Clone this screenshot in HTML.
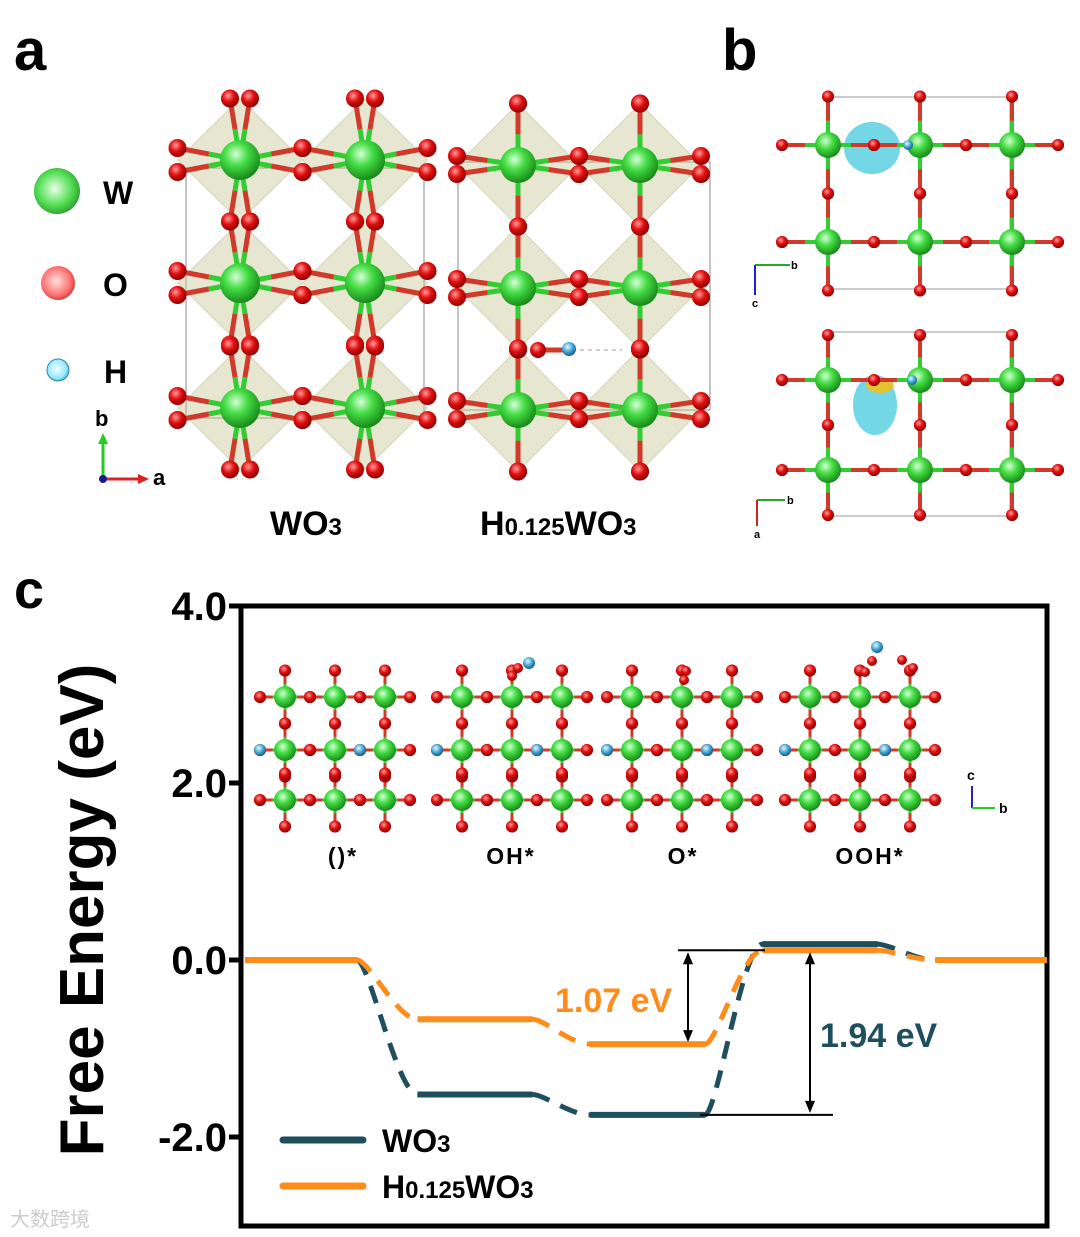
<!DOCTYPE html>
<html><head><meta charset="utf-8">
<style>
html,body{margin:0;padding:0;background:#fff;}
svg{display:block;font-family:"Liberation Sans",Arial,sans-serif;}
</style></head>
<body>
<svg id="fig" width="1080" height="1237" viewBox="0 0 1080 1237" xmlns="http://www.w3.org/2000/svg">
<defs>
<radialGradient id="gW" cx="40%" cy="35%" r="65%"><stop offset="0" stop-color="#d8ffd8"/><stop offset="0.45" stop-color="#44dd44"/><stop offset="1" stop-color="#1a8a1a"/></radialGradient>
<radialGradient id="gO" cx="40%" cy="35%" r="65%"><stop offset="0" stop-color="#ff9a9a"/><stop offset="0.5" stop-color="#e01010"/><stop offset="1" stop-color="#900000"/></radialGradient>
<radialGradient id="gH" cx="40%" cy="35%" r="65%"><stop offset="0" stop-color="#e0faff"/><stop offset="0.6" stop-color="#3aa0d0"/><stop offset="1" stop-color="#1a6090"/></radialGradient>
<radialGradient id="gWl" cx="45%" cy="45%" r="60%"><stop offset="0" stop-color="#eaffea"/><stop offset="0.6" stop-color="#55e055"/><stop offset="1" stop-color="#2a9a2a"/></radialGradient>
<radialGradient id="gOl" cx="45%" cy="45%" r="60%"><stop offset="0" stop-color="#ffe0e0"/><stop offset="0.7" stop-color="#ff7070"/><stop offset="1" stop-color="#d03030"/></radialGradient>
<radialGradient id="gHl" cx="45%" cy="45%" r="60%"><stop offset="0" stop-color="#f0ffff"/><stop offset="0.7" stop-color="#9ae8ff"/><stop offset="1" stop-color="#3aaad0"/></radialGradient>
</defs>
<g id="panelA"></g>
<g id="panelB"></g>
<g id="panelCstruct"></g>
<g id="chart"></g>
<text x="14" y="70" font-size="58" font-weight="bold">a</text>
<text x="722" y="70" font-size="58" font-weight="bold">b</text>
<text x="14" y="608" font-size="54" font-weight="bold">c</text>
<!-- legend of atoms -->
<g>
<circle cx="57" cy="191" r="23" fill="url(#gWl)"/><text x="103" y="204" font-size="32" font-weight="bold">W</text>
<circle cx="58" cy="283" r="17" fill="url(#gOl)"/><text x="103" y="296" font-size="32" font-weight="bold">O</text>
<circle cx="58" cy="370" r="11" fill="url(#gHl)" stroke="#2a8ab0" stroke-width="1"/><text x="104" y="383" font-size="32" font-weight="bold">H</text>
<line x1="103" y1="478" x2="103" y2="442" stroke="#22cc22" stroke-width="3"/><polygon points="98,444 108,444 103,433" fill="#22cc22"/>
<line x1="103" y1="479" x2="140" y2="479" stroke="#dd2222" stroke-width="3"/><polygon points="138,474 138,484 149,479" fill="#dd2222"/>
<circle cx="103" cy="479" r="4" fill="#1a1a8a"/>
<text x="95" y="426" font-size="22" font-weight="bold">b</text>
<text x="153" y="485" font-size="22" font-weight="bold">a</text>
</g>
<text x="270" y="535" font-size="34" font-weight="bold">WO<tspan font-size="24">3</tspan></text>
<text x="480" y="535" font-size="34" font-weight="bold">H<tspan font-size="24">0.125</tspan>WO<tspan font-size="24">3</tspan></text>
<text x="10" y="1226" font-size="20" fill="#ccc">大数跨境</text>
</svg>
<script>
const NS="http://www.w3.org/2000/svg";
function mk(parent,tag,attrs){const e=document.createElementNS(NS,tag);for(const k in attrs)e.setAttribute(k,attrs[k]);parent.appendChild(e);return e;}
function bond(g,x1,y1,x2,y2,w){const mx=(x1+x2)/2,my=(y1+y2)/2;
 mk(g,'line',{x1:x1,y1:y1,x2:mx,y2:my,stroke:'#33cc33','stroke-width':w});
 mk(g,'line',{x1:mx,y1:my,x2:x2,y2:y2,stroke:'#d03a2a','stroke-width':w});}
function atom(g,x,y,r,t){mk(g,'circle',{cx:x,cy:y,r:r,fill:'url(#g'+t+')'});}
// generic lattice: W positions xs,ys ; spacing dx,dy
function lattice(g,xs,ys,o){
 const dx=xs.length>1?xs[1]-xs[0]:o.dx, dy=ys.length>1?ys[1]-ys[0]:o.dy;
 const rW=o.rW,rO=o.rO,bw=o.bw;
 if(o.poly){for(const x of xs)for(const y of ys){mk(g,'polygon',{points:`${x},${y-dy/2} ${x+dx/2},${y} ${x},${y+dy/2} ${x-dx/2},${y}`,fill:'#c8c89a','fill-opacity':0.45,stroke:'#b0b080','stroke-opacity':0.4});}}
 const Os=[];
 for(const x of xs)for(const y of ys){
  const off=o.split||0;
  [[x-dx/2,y-off],[x+dx/2,y-off],[x-dx/2,y+off],[x+dx/2,y+off]].forEach(p=>{if(o.split||p[1]===y){bond(g,x,y,p[0],p[1],bw);Os.push(p);}});
  const vo=o.vsplit||0;
  const tops=(o.noTop&&y===ys[0])?[]:[[x-vo,y-dy/2],[x+vo,y-dy/2]];
  tops.concat([[x-vo,y+dy/2],[x+vo,y+dy/2]]).forEach(p=>{bond(g,x,y,p[0],p[1],bw);Os.push(p);});
 }
 for(const x of xs)for(const y of ys)atom(g,x,y,rW,'W');
 for(const p of Os)atom(g,p[0],p[1],rO,'O');
}
// Panel a
const A=document.getElementById('panelA');
mk(A,'rect',{x:186,y:168,width:238,height:250,fill:'none',stroke:'#888','stroke-width':1});
lattice(A,[240,365],[160,283,408],{rW:20,rO:9,bw:5,poly:true,split:12,vsplit:10});
mk(A,'rect',{x:458,y:162,width:252,height:248,fill:'none',stroke:'#888','stroke-width':1});
lattice(A,[518,640],[165,288,410],{rW:18,rO:9,bw:5,poly:true,split:9,vsplit:0});
mk(A,'line',{x1:572,y1:350,x2:622,y2:350,stroke:'#999','stroke-dasharray':'4,4'});
mk(A,'line',{x1:540,y1:350,x2:565,y2:350,stroke:'#d03a2a','stroke-width':5});
atom(A,538,350,8,'O');atom(A,569,349,7,'H');
// Panel b
const B=document.getElementById('panelB');
mk(B,'rect',{x:828,y:97,width:182,height:192,fill:'none',stroke:'#999'});
mk(B,'rect',{x:828,y:332,width:182,height:184,fill:'none',stroke:'#999'});
mk(B,'ellipse',{cx:872,cy:148,rx:28,ry:26,fill:'#5ad0e0','fill-opacity':0.85});
mk(B,'ellipse',{cx:875,cy:405,rx:22,ry:30,fill:'#5ad0e0','fill-opacity':0.85});
mk(B,'ellipse',{cx:880,cy:385,rx:14,ry:8,fill:'#f0c020','fill-opacity':0.9});
lattice(B,[828,920,1012],[145,242],{rW:13,rO:6,bw:4,split:0});
lattice(B,[828,920,1012],[380,470],{rW:13,rO:6,bw:4,split:0});
atom(B,908,145,5,'H');atom(B,912,380,5,'H');
mk(B,'line',{x1:755,y1:265,x2:790,y2:265,stroke:'#22aa22','stroke-width':2});
mk(B,'line',{x1:755,y1:265,x2:755,y2:295,stroke:'#2222cc','stroke-width':2});
mk(B,'text',{x:791,y:269,'font-size':11,'font-weight':'bold'}).textContent='b';
mk(B,'text',{x:752,y:307,'font-size':11,'font-weight':'bold'}).textContent='c';
mk(B,'line',{x1:757,y1:500,x2:785,y2:500,stroke:'#22aa22','stroke-width':2});
mk(B,'line',{x1:757,y1:500,x2:757,y2:526,stroke:'#cc2222','stroke-width':2});
mk(B,'text',{x:787,y:504,'font-size':11,'font-weight':'bold'}).textContent='b';
mk(B,'text',{x:754,y:538,'font-size':11,'font-weight':'bold'}).textContent='a';
// Panel c structures
const C=document.getElementById('panelCstruct');
const slabBases=[285,462,632,810];
slabBases.forEach((b,i)=>{
 const g=mk(C,'g',{});
 
 
 lattice(g,[b,b+50,b+100],[697,750,800],{rW:11,rO:6,bw:3,split:0,dy:53});
 atom(g,b-25,750,6,'H');atom(g,b+75,750,6,'H');
});
[[512,676],[518,668],[529,663,'H'],[684,680],[686,671],[877,647,'H'],[865,672],[872,661],[902,660],[913,668]].forEach(p=>atom(C,p[0],p[1],p[2]?6:5,p[2]||'O'));
mk(C,'line',{x1:972,y1:808,x2:972,y2:786,stroke:'#2222cc','stroke-width':2});
mk(C,'line',{x1:972,y1:808,x2:995,y2:808,stroke:'#22cc22','stroke-width':2});
mk(C,'text',{x:967,y:780,'font-size':14,'font-weight':'bold'}).textContent='c';
mk(C,'text',{x:999,y:813,'font-size':14,'font-weight':'bold'}).textContent='b';
[['()*',343],['OH*',511],['O*',683],['OOH*',870]].forEach(l=>{const t=mk(C,'text',{x:l[1],y:864,'font-size':23,'font-weight':'bold','text-anchor':'middle','letter-spacing':'2'});t.textContent=l[0];});
</script>
<script>
// ===== Chart data =====
const steps=['*','OH*','O*','OOH*','O2'];
const wo3Values=[0,-1.52,-1.75,0.18,0];
const hwo3Values=[0,-0.67,-0.95,0.11,0];
const yTicks=[4.0,2.0,0.0,-2.0];
const yTickLabels=['4.0','2.0','0.0','-2.0'];
// ===== axes =====
const plot={left:241,right:1047,top:606,bottom:1226};
const yMin=-3.0,yMax=4.0;
function yS(v){return 960-(v)*88.5;}
const stepW=(plot.right-plot.left)/steps.length;
function xL(i){return plot.left+4+i*( (1045-245)/ (steps.length-0.5) )*0.0+ [245,413,590,762,935][0]*0 + 245 + i*172.5 - 245;}
function xStart(i){return 245+i*172.5;}
function xEnd(i){return xStart(i)+(i===0||i===steps.length-1?112:115);}
const G=document.getElementById('chart');
function add(tag,attrs,parent){return mk(parent||G,tag,attrs);}
const frame=add('rect',{x:plot.left,y:plot.top,width:plot.right-plot.left,height:plot.bottom-plot.top,fill:'none',stroke:'#000','stroke-width':5});


yTicks.forEach((v,i)=>{
 const tk=add('line',{x1:plot.left-12,y1:yS(v),x2:plot.left,y2:yS(v),stroke:'#000','stroke-width':5});
 
 
 const t=add('text',{x:plot.left-14,y:yS(v)+14,'font-size':40,'font-weight':'bold','text-anchor':'end'});
 t.textContent=yTickLabels[i];
 
 
});
const yt=add('text',{x:0,y:0,'font-size':62,'font-weight':'bold','text-anchor':'middle',transform:'translate(103,910) rotate(-90)'});
yt.textContent='Free Energy (eV)';


function series(vals,color,name,last){
 const g=add('g',{});
 
 
 vals.forEach((v,i)=>{
  const l=add('line',{x1:xStart(i),y1:yS(v),x2:xEnd(i),y2:yS(v),stroke:color,'stroke-width':6},g);
  
  
  if(i<vals.length-1){
   const c=add('path',{d:`M${xEnd(i)},${yS(v)} C${xEnd(i)+12},${yS(v)} ${xStart(i+1)-20},${yS(vals[i+1])} ${xStart(i+1)},${yS(vals[i+1])}`,fill:'none',stroke:color,'stroke-width':5,'stroke-dasharray':'18,12'},g);
   
   
  }
 });
}
series(wo3Values,'#1f4e5f','series-wo3');
series(hwo3Values,'#ff8c1a','series-h0125wo3');
// annotations
const ann=add('g',{});


const topH=yS(hwo3Values[3]),botH=yS(hwo3Values[2]);
add('line',{x1:678,y1:topH,x2:765,y2:topH,stroke:'#000','stroke-width':2},ann);
add('line',{x1:688,y1:topH+4,x2:688,y2:botH-4,stroke:'#000','stroke-width':2},ann);
add('polygon',{points:`683,${topH+14} 693,${topH+14} 688,${topH+2}`},ann);
add('polygon',{points:`683,${botH-14} 693,${botH-14} 688,${botH-2}`},ann);
const botW=yS(wo3Values[2]);
add('line',{x1:700,y1:botW,x2:833,y2:botW,stroke:'#000','stroke-width':2},ann);
add('line',{x1:810,y1:topH+4,x2:810,y2:botW-4,stroke:'#000','stroke-width':2},ann);
add('polygon',{points:`805,${topH+14} 815,${topH+14} 810,${topH+2}`},ann);
add('polygon',{points:`805,${botW-14} 815,${botW-14} 810,${botW-2}`},ann);
const a1=add('text',{x:555,y:1012,'font-size':34,'font-weight':'bold',fill:'#ff8c1a'},ann);a1.textContent='1.07 eV';
const a2=add('text',{x:820,y:1047,'font-size':34,'font-weight':'bold',fill:'#1f4e5f'},ann);a2.textContent='1.94 eV';
// legend
const lg=add('g',{});


add('line',{x1:283,y1:1140,x2:363,y2:1140,stroke:'#1f4e5f','stroke-width':7,'stroke-linecap':'round'},lg);
add('line',{x1:283,y1:1186,x2:363,y2:1186,stroke:'#ff8c1a','stroke-width':7,'stroke-linecap':'round'},lg);
const l1=add('text',{x:382,y:1152,'font-size':32,'font-weight':'bold'},lg);l1.innerHTML='WO<tspan font-size="24">3</tspan>';
const l2=add('text',{x:382,y:1198,'font-size':32,'font-weight':'bold'},lg);l2.innerHTML='H<tspan font-size="24">0.125</tspan>WO<tspan font-size="24">3</tspan>';
</script>
</body></html>
